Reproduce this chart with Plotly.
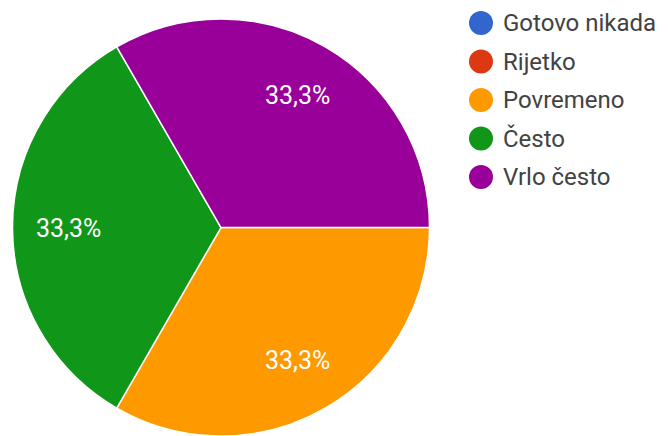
import math
import plotly.graph_objects as go

categories = ["Gotovo nikada", "Rijetko", "Povremeno", "Često", "Vrlo često"]
values = [0, 0, 1, 1, 1]
colors = ["#3366CC", "#DC3912", "#FF9900", "#109618", "#990099"]

# the page body adds an 8px offset, so the figure is 8px smaller
W, H = 662, 428
CX, CY, R = 213, 220, 209          # pie centre / radius in figure pixels
ROT = 90                           # start angle, clockwise from 12 o'clock
LABEL_R = 0.73                     # label distance as fraction of radius

fig = go.Figure()

fig.add_trace(go.Pie(
    labels=categories,
    values=values,
    marker=dict(colors=colors, line=dict(color="white", width=1.5)),
    sort=False,
    direction="clockwise",
    rotation=ROT,
    textinfo="none",
    showlegend=False,
    hoverinfo="label+percent",
    domain=dict(x=[(CX - R) / W, (CX + R) / W],
                y=[max(0, (H - CY - R) / H), min(1, (H - CY + R) / H)]),
))

# percentage labels placed along each slice bisector
total = sum(values)
cum = 0
annotations = []
for c, v in zip(categories, values):
    if v > 0:
        ang = math.radians(ROT + 360 * (cum + v / 2) / total)
        px = CX + LABEL_R * R * math.sin(ang)
        py = CY - LABEL_R * R * math.cos(ang)
        pct = f"{100 * v / total:.1f}".replace(".", ",") + "%"
        annotations.append(dict(
            x=px / W, y=1 - py / H, xref="paper", yref="paper",
            text=pct, showarrow=False,
            font=dict(family="Roboto", size=25, color="white"),
            xanchor="center", yanchor="middle",
        ))
    cum += v

# legend: circles + text
shapes = []
LX, LY0, LDY, LD, TX = 473, 15, 38.5, 24, 494
for i, (c, col) in enumerate(zip(categories, colors)):
    yc = LY0 + i * LDY
    shapes.append(dict(
        type="circle", xref="paper", yref="paper",
        x0=(LX - LD / 2) / W, x1=(LX + LD / 2) / W,
        y0=1 - (yc + LD / 2) / H, y1=1 - (yc - LD / 2) / H,
        fillcolor=col, line=dict(width=0),
    ))
    annotations.append(dict(
        x=TX / W, y=1 - yc / H, xref="paper", yref="paper",
        text=c, showarrow=False, xanchor="left", yanchor="middle",
        borderpad=0,
        font=dict(family="Roboto", size=24, color="#424242"),
    ))

fig.update_layout(
    width=W, height=H,
    margin=dict(l=0, r=0, t=0, b=0),
    paper_bgcolor="white", plot_bgcolor="white",
    separators=", ",
    font=dict(family="Roboto", color="#424242"),
    showlegend=False,
    annotations=annotations,
    shapes=shapes,
)

fig.write_html("out.html")
